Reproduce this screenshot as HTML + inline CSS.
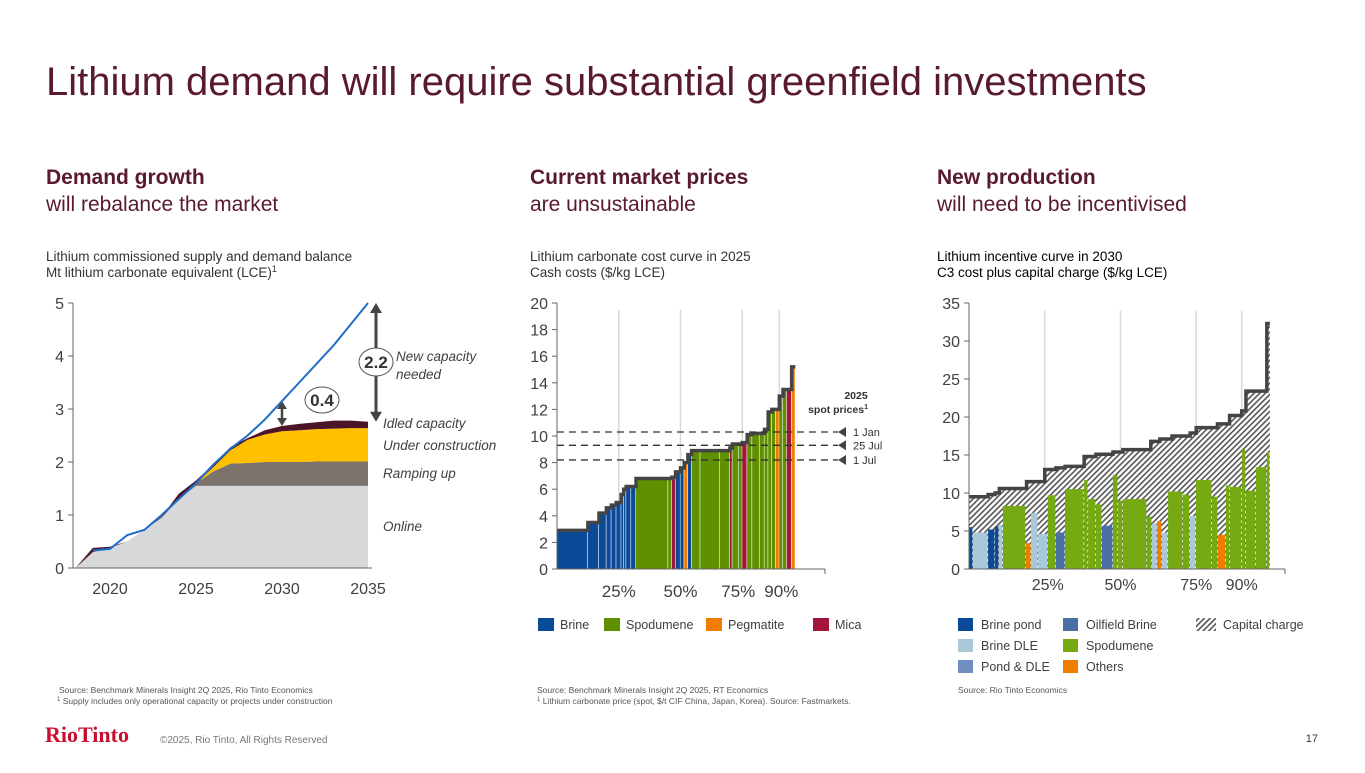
<!DOCTYPE html>
<html><head><meta charset="utf-8"><style>
body{margin:0;width:1365px;height:768px;background:#fff;overflow:hidden;font-family:"Liberation Sans",sans-serif;}
svg text{font-family:"Liberation Sans",sans-serif;}
</style></head><body>
<svg id="s" width="1365" height="768" xmlns="http://www.w3.org/2000/svg">
<defs>
<pattern id="hatch" width="4" height="4" patternUnits="userSpaceOnUse" patternTransform="rotate(45)">
<rect width="4" height="4" fill="#fff"/><rect width="1.6" height="4" fill="#555"/>
</pattern>
</defs>
<text x="46" y="95" font-size="40" fill="#5a1a2e">Lithium demand will require substantial greenfield investments</text>

<g fill="#5a1a2e" font-size="21">
<text x="46" y="184" font-weight="bold">Demand growth</text>
<text x="46" y="211">will rebalance the market</text>
<text x="530" y="184" font-weight="bold">Current market prices</text>
<text x="530" y="211">are unsustainable</text>
<text x="937" y="184" font-weight="bold">New production</text>
<text x="937" y="211">will need to be incentivised</text>
</g>
<g font-size="13.5" fill="#333">
<text x="46" y="261">Lithium commissioned supply and demand balance</text>
<text x="46" y="277">Mt lithium carbonate equivalent (LCE)<tspan font-size="9" dy="-5">1</tspan></text>
<text x="530" y="261">Lithium carbonate cost curve in 2025</text>
<text x="530" y="277">Cash costs ($/kg LCE)</text>
<text x="937" y="261" fill="#000">Lithium incentive curve in 2030</text>
<text x="937" y="277" fill="#000">C3 cost plus capital charge ($/kg LCE)</text>
</g>
<g id="c1"></g>
<g id="c2"></g>
<g id="c3"></g>

<g font-size="8.5" fill="#555">
<text x="59" y="693">Source: Benchmark Minerals Insight 2Q 2025, Rio Tinto Economics</text>
<text x="57" y="704"><tspan font-size="6" dy="-3">1</tspan><tspan dy="3"> Supply includes only operational capacity or projects under construction</tspan></text>
<text x="537" y="693">Source: Benchmark Minerals Insight 2Q 2025, RT Economics</text>
<text x="537" y="704"><tspan font-size="6" dy="-3">1</tspan><tspan dy="3"> Lithium carbonate price (spot, $/t CIF China, Japan, Korea). Source: Fastmarkets.</tspan></text>
<text x="958" y="693">Source: Rio Tinto Economics</text>
</g>
<text x="45" y="742" font-size="22" font-weight="bold" fill="#c8102e" style="font-family:'Liberation Serif',serif">RioTinto</text>
<text x="160" y="743" font-size="10" fill="#777">©2025, Rio Tinto, All Rights Reserved</text>
<text x="1318" y="742" font-size="11" fill="#333" text-anchor="end">17</text>
</svg>
<script>
const NS="http://www.w3.org/2000/svg";
function mk(p,t,a){const e=document.createElementNS(NS,t);for(const k in a)e.setAttribute(k,a[k]);p.appendChild(e);return e;}

// ---------- Chart 1 data ----------
const years=[2018,2019,2020,2021,2022,2023,2024,2025,2026,2027,2028,2029,2030,2031,2032,2033,2034,2035];
const online=[0,0.3,0.38,0.5,0.72,0.95,1.3,1.55,1.55,1.55,1.55,1.55,1.55,1.55,1.55,1.55,1.55,1.55];
const ramping=[0,0,0,0,0,0,0,0.05,0.27,0.42,0.43,0.45,0.45,0.45,0.46,0.46,0.46,0.46];
const construction=[0,0,0,0,0,0,0,0,0.08,0.25,0.44,0.52,0.58,0.6,0.61,0.62,0.63,0.63];
const idled=[0,0.08,0.02,0,0,0.02,0.1,0.05,0.05,0.06,0.03,0.08,0.1,0.12,0.13,0.15,0.14,0.12];
const demandYears=[2019,2020,2021,2022,2023,2024,2025,2026,2027,2028,2029,2030,2031,2032,2033,2034,2035];
const demand=[0.33,0.36,0.62,0.72,1.0,1.3,1.6,1.95,2.25,2.5,2.8,3.15,3.5,3.85,4.2,4.6,5.0];
const c1YTicks=[0,1,2,3,4,5];
const c1XTicks=[2020,2025,2030,2035];

// ---------- Chart 2 data ----------
const c2Start=[0,12.5,17,20,22,24,26,27,28,30,32,45,46.5,48,50,51.5,53,54.5,58,66,70,71,73.5,75,77,79,82,84,85.5,87,88.5,90,91.5,93,95];
const c2End=[12.5,17,20,22,24,26,27,28,30,32,45,46.5,48,50,51.5,53,54.5,58,66,70,71,73.5,75,77,79,82,84,85.5,87,88.5,90,91.5,93,95,96.5];
const c2Cost=[2.9,3.5,4.2,4.6,4.8,5.0,5.6,6.0,6.2,6.2,6.8,6.8,6.9,7.3,7.6,8.0,8.6,8.9,8.9,8.9,9.1,9.4,9.4,9.5,10.1,10.2,10.2,10.5,11.8,12.0,12.0,13.0,13.5,13.5,15.2];
const c2Type=["B","B","B","B","B","B","B","B","B","B","S","S","M","B","B","P","B","S","S","S","M","S","S","M","S","S","S","S","S","S","P","S","S","M","P"];
const spotLabels=["1 Jan","25 Jul","1 Jul"];
const spotPrices=[10.3,9.3,8.2];
const c2YTicks=[0,2,4,6,8,10,12,14,16,18,20];
const pctTicks=[25,50,75,90];

// ---------- Chart 3 data ----------
const c3Start=[0,1.3,6.3,8.6,9.9,11.2,18.8,20.5,22.8,26,28.7,31.7,38,39.3,41.9,43.9,47.5,49.2,50.8,58.7,60.4,62.1,63.7,65.7,70.6,72.9,74.9,80.2,82.2,84.8,86.1,90.1,91.4,94.7,98.3];
const c3End=[1.3,6.3,8.6,9.9,11.2,18.8,20.5,22.8,26,28.7,31.7,38,39.3,41.9,43.9,47.5,49.2,50.8,58.7,60.4,62.1,63.7,65.7,70.6,72.9,74.9,80.2,82.2,84.8,86.1,90.1,91.4,94.7,98.3,99.3];
const c3Cost=[5.5,4.8,5.2,5.6,5.8,8.3,3.4,7.4,4.6,9.7,4.8,10.5,11.7,9.2,8.5,5.7,12.4,9.0,9.2,6.9,6.0,6.3,4.8,10.2,9.8,7.0,11.7,9.5,4.5,11.0,10.8,15.7,10.3,13.4,15.4];
const c3Type=["BP","DLE","BP","BP","DLE","S","O","DLE","DLE","S","OB","S","S","S","S","OB","S","S","S","S","DLE","O","DLE","S","S","DLE","S","S","O","S","S","S","S","S","S"];
const inStart=[0,6.3,8.6,10,19,25,28.7,31.7,38,41.9,47.5,50.8,60,63,67,73,75,82,86,90,91.4,98.3];
const inEnd=[6.3,8.6,10,19,25,28.7,31.7,38,41.9,47.5,50.8,60,63,67,73,75,82,86,90,91.4,98.3,99.3];
const incentive=[9.5,9.8,10.0,10.6,11.5,13.1,13.3,13.5,14.8,15.1,15.4,15.7,16.8,17.1,17.5,17.9,18.6,19.1,20.2,20.8,23.4,32.3];
const c3YTicks=[0,5,10,15,20,25,30,35];

const C2COL={B:"#0b4a98",S:"#5f9000",P:"#f07c00",M:"#a3163c"};
const C3COL={BP:"#0b4a98",OB:"#4a6ea6",DLE:"#a9c9d8",S:"#76aa12",PD:"#6f8fc0",O:"#f07c00"};

function axisTicks(g,x,ys,vals,fy){
  vals.forEach(v=>{const y=fy(v);
    const t=mk(g,"line",{x1:x-5,x2:x,y1:y,y2:y,stroke:"#666","stroke-width":1});
    
    
    const l=mk(g,"text",{x:x-9,y:y+6,"font-size":16,fill:"#404040","text-anchor":"end"});l.textContent=v;
    
    
  });
}

// ===== Chart 1 =====
(function(){
  const g=document.getElementById("c1");
  const X=y=>110+(y-2020)*17.2, Y=v=>568-v*53;
  const layers=[online,ramping,construction,idled], cols=["#d7d8da","#7b726c","#ffc000","#4b1429"], names=["online-area","ramping-up-area","under-construction-area","idled-capacity-area"];
  let base=years.map(()=>0);
  layers.forEach((L,i)=>{
    const top=base.map((b,j)=>b+L[j]);
    let d="M"+years.map((y,j)=>X(y)+","+Y(top[j])).join(" L");
    for(let j=years.length-1;j>=0;j--) d+=" L"+X(years[j])+","+Y(base[j]);
    const p=mk(g,"path",{d:d+"Z",fill:cols[i]});
    
    
    base=top;
  });
  const dl=mk(g,"polyline",{points:demandYears.map((y,j)=>X(y)+","+Y(demand[j])).join(" "),fill:"none",stroke:"#1d6ec8","stroke-width":2});
  
  
  const ax=mk(g,"path",{d:`M73,${Y(5)} V568 H372`,fill:"none",stroke:"#666","stroke-width":1});
  
  
  axisTicks(g,73,0,c1YTicks,Y);
  c1XTicks.forEach(y=>{const t=mk(g,"text",{x:X(y),y:594,"font-size":16,fill:"#404040","text-anchor":"middle"});t.textContent=y;
    
    });
  const lastD=demand[demand.length-1], lastS=online[17]+ramping[17]+construction[17]+idled[17];
  const a1=mk(g,"g",{});
  
  
  mk(a1,"line",{x1:376,x2:376,y1:Y(lastD)+8,y2:Y(lastS)-8,stroke:"#444","stroke-width":3});
  mk(a1,"path",{d:`M370,${Y(lastD)+10} L376,${Y(lastD)} L382,${Y(lastD)+10}Z M370,${Y(lastS)-10} L376,${Y(lastS)} L382,${Y(lastS)-10}Z`,fill:"#444"});
  const i30=demandYears.indexOf(2030), s30=online[12]+ramping[12]+construction[12]+idled[12];
  const a2=mk(g,"g",{});
  
  
  mk(a2,"line",{x1:282,x2:282,y1:Y(demand[i30])+6,y2:Y(s30)-6,stroke:"#444","stroke-width":2.5});
  mk(a2,"path",{d:`M277,${Y(demand[i30])+8} L282,${Y(demand[i30])} L287,${Y(demand[i30])+8}Z M277,${Y(s30)-8} L282,${Y(s30)} L287,${Y(s30)-8}Z`,fill:"#444"});
  const e1=mk(g,"ellipse",{cx:376,cy:362,rx:17,ry:14,fill:"#fff",stroke:"#555","stroke-width":1});
  
  
  const t1=mk(g,"text",{x:376,y:368,"font-size":17,"font-weight":"bold",fill:"#333","text-anchor":"middle"});t1.textContent=(lastD-lastS).toFixed(1);
  
  
  const e2=mk(g,"ellipse",{cx:322,cy:400,rx:17,ry:13,fill:"#fff",stroke:"#555","stroke-width":1});
  
  
  const t2=mk(g,"text",{x:322,y:406,"font-size":17,"font-weight":"bold",fill:"#333","text-anchor":"middle"});t2.textContent="0.4";
  
  
  [["New capacity",396,361],["needed",396,379],["Idled capacity",383,428],["Under construction",383,450],["Ramping up",383,478],["Online",383,531]].forEach(a=>{
    const t=mk(g,"text",{x:a[1],y:a[2],"font-size":13.5,"font-style":"italic",fill:"#404040"});t.textContent=a[0];
    
    
  });
})();

// ===== Chart 2 =====
(function(){
  const g=document.getElementById("c2");
  const X=p=>557+p*2.47, Y=v=>569-v*13.3;
  pctTicks.forEach(p=>{const l=mk(g,"line",{x1:X(p),x2:X(p),y1:Y(19.5),y2:569,stroke:"#d9d9d9","stroke-width":1.5});
    
    });
  c2Cost.forEach((v,i)=>{
    const r=mk(g,"rect",{x:X(c2Start[i]),y:Y(v),width:X(c2End[i])-X(c2Start[i])-0.6,height:569-Y(v),fill:C2COL[c2Type[i]]});
    
    
  });
  let d="M"+X(c2Start[0])+","+Y(c2Cost[0]);
  c2Cost.forEach((v,i)=>{d+=` L${X(c2Start[i])},${Y(v)} L${X(c2End[i])},${Y(v)}`;});
  const st=mk(g,"path",{d,fill:"none",stroke:"#444","stroke-width":3.5,"stroke-linejoin":"miter"});
  
  
  const ax=mk(g,"path",{d:`M557,${Y(20)} V569 H825`,fill:"none",stroke:"#666","stroke-width":1});
  
  
  const tk=mk(g,"line",{x1:825,x2:825,y1:569,y2:574,stroke:"#666"});
  
  
  axisTicks(g,557,0,c2YTicks,Y);
  pctTicks.forEach(p=>{const t=mk(g,"text",{x:X(p)+(p==90?2:p==75?-4:0),y:597,"font-size":17,fill:"#404040","text-anchor":"middle"});t.textContent=p+"%";
    
    });
  spotPrices.forEach((v,i)=>{
    const l=mk(g,"line",{x1:557,x2:838,y1:Y(v),y2:Y(v),stroke:"#333","stroke-width":1.3,"stroke-dasharray":"7,5"});
    
    
    const m=mk(g,"path",{d:`M838,${Y(v)} L846,${Y(v)-5} L846,${Y(v)+5}Z`,fill:"#444"});
    
    
    const t=mk(g,"text",{x:853,y:Y(v)+4,"font-size":11,fill:"#333"});t.textContent=spotLabels[i];
    
    
  });
  const h1=mk(g,"text",{x:856,y:399,"font-size":10.5,"font-weight":"bold",fill:"#333","text-anchor":"middle"});h1.textContent="2025";
  
  
  const h2=mk(g,"text",{x:868,y:413,"font-size":10.5,"font-weight":"bold",fill:"#333","text-anchor":"end"});h2.innerHTML='spot prices<tspan font-size="7" dy="-4">1</tspan>';
  
  
  [["Brine","B",538],["Spodumene","S",604],["Pegmatite","P",706],["Mica","M",813]].forEach(a=>{
    const lg=mk(g,"g",{});
    
    
    mk(lg,"rect",{x:a[2],y:618,width:16,height:13,fill:C2COL[a[1]]});
    const t=mk(lg,"text",{x:a[2]+22,y:629,"font-size":12.5,fill:"#404040"});t.textContent=a[0];
  });
})();

// ===== Chart 3 =====
(function(){
  const g=document.getElementById("c3");
  const X=p=>969+p*3.03, Y=v=>569-v*7.6;
  pctTicks.forEach(p=>{const l=mk(g,"line",{x1:X(p),x2:X(p),y1:Y(34),y2:569,stroke:"#d9d9d9","stroke-width":1.5});
    
    });
  let d="M"+X(inStart[0])+",569";
  incentive.forEach((v,i)=>{d+=` L${X(inStart[i])},${Y(v)} L${X(inEnd[i])},${Y(v)}`;});
  const hp=mk(g,"path",{d:d+` L${X(inEnd[inEnd.length-1])},569Z`,fill:"url(#hatch)"});
  
  
  c3Cost.forEach((v,i)=>{
    const r=mk(g,"rect",{x:X(c3Start[i]),y:Y(v),width:X(c3End[i])-X(c3Start[i])-0.6,height:569-Y(v),fill:C3COL[c3Type[i]]});
    
    
  });
  let s="M"+X(inStart[0])+","+Y(incentive[0]);
  incentive.forEach((v,i)=>{s+=` L${X(inStart[i])},${Y(v)} L${X(inEnd[i])},${Y(v)}`;});
  const st=mk(g,"path",{d:s,fill:"none",stroke:"#444","stroke-width":3.5});
  
  
  const ax=mk(g,"path",{d:`M969,${Y(35)} V569 H1285`,fill:"none",stroke:"#666","stroke-width":1});
  
  
  const tk=mk(g,"line",{x1:1285,x2:1285,y1:569,y2:574,stroke:"#666"});
  
  
  axisTicks(g,969,0,c3YTicks,Y);
  pctTicks.forEach(p=>{const t=mk(g,"text",{x:X(p)+(p==25?3:0),y:590,"font-size":16,fill:"#404040","text-anchor":"middle"});t.textContent=p+"%";
    
    });
  [["Brine pond","BP",958,618],["Oilfield Brine","OB",1063,618],["Brine DLE","DLE",958,639],["Spodumene","S",1063,639],["Pond & DLE","PD",958,660],["Others","O",1063,660]].forEach(a=>{
    const lg=mk(g,"g",{});
    
    
    mk(lg,"rect",{x:a[2],y:a[3],width:15,height:13,fill:C3COL[a[1]]});
    const t=mk(lg,"text",{x:a[2]+23,y:a[3]+11,"font-size":12.5,fill:"#404040"});t.textContent=a[0];
  });
  const lg=mk(g,"g",{});
  
  
  mk(lg,"rect",{x:1196,y:618,width:20,height:13,fill:"url(#hatch)"});
  const t=mk(lg,"text",{x:1223,y:629,"font-size":12.5,fill:"#404040"});t.textContent="Capital charge";
})();
</script>
</body></html>
